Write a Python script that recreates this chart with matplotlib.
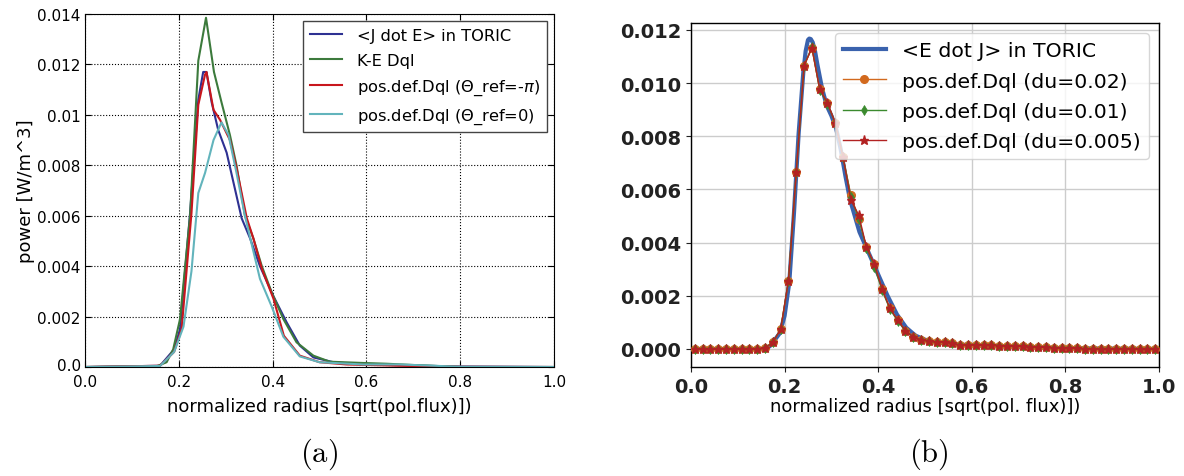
import numpy as np
import matplotlib
matplotlib.use('Agg')
from matplotlib import pyplot as plt
from matplotlib.transforms import ScaledTranslation

# ---- (a) data : radius / power [W/m^3]
r_toric_a = [0.0, 0.16, 0.19, 0.2026, 0.224, 0.2416, 0.252, 0.259, 0.270, 0.284, 0.302, 0.318,
             0.334, 0.352, 0.373, 0.402, 0.430, 0.458, 0.487, 0.53, 0.593, 0.70, 0.80, 1.0]
p_toric_a = [0.0, 0.00005, 0.0007, 0.0015, 0.0061, 0.0106, 0.0117, 0.0117, 0.0105, 0.0094, 0.0085, 0.0072,
             0.0059, 0.0051, 0.0040, 0.0028, 0.00177, 0.00085, 0.00038, 0.00019, 0.0001, 0.00006, 0.00002, 0.0]

r_ke = [0.0, 0.153, 0.174, 0.188, 0.2026, 0.224, 0.2416, 0.258, 0.275, 0.291, 0.309, 0.323, 0.341,
        0.359, 0.377, 0.398, 0.423, 0.451, 0.487, 0.522, 0.593, 0.643, 0.70, 0.80, 1.0]
p_ke = [0.0, 0.00003, 0.00019, 0.0007, 0.0019, 0.0060, 0.01215, 0.01385, 0.0117, 0.0105, 0.0092, 0.0080, 0.0060,
        0.0051, 0.0040, 0.00296, 0.0019, 0.00098, 0.00045, 0.00021, 0.00016, 0.00013, 0.00008, 0.0, 0.0]

r_pd_pi = [0.0, 0.16, 0.19, 0.206, 0.227, 0.2416, 0.256, 0.259, 0.274, 0.288, 0.309, 0.323, 0.345,
           0.359, 0.377, 0.402, 0.424, 0.458, 0.50, 0.558, 0.67, 0.80, 1.0]
p_pd_pi = [0.0, 0.00005, 0.0006, 0.0015, 0.0061, 0.0104, 0.0116, 0.0117, 0.0102, 0.0098, 0.0090, 0.0079, 0.0059,
           0.0051, 0.0039, 0.0027, 0.00124, 0.00045, 0.00019, 0.0001, 0.00005, 0.00001, 0.0]

r_pd_0 = [0.0, 0.16, 0.19, 0.21, 0.227, 0.2416, 0.256, 0.274, 0.291, 0.306, 0.323, 0.341, 0.355,
          0.373, 0.398, 0.423, 0.458, 0.50, 0.593, 0.67, 0.80, 1.0]
p_pd_0 = [0.0, 0.00004, 0.0006, 0.0016, 0.0038, 0.0069, 0.0077, 0.0090, 0.0097, 0.0092, 0.0077, 0.0060, 0.0049,
          0.0035, 0.0024, 0.0012, 0.00042, 0.00019, 0.0001, 0.0001, 0.00001, 0.0]

labels_a = ['<J dot E> in TORIC', 'K-E Dql', r'pos.def.Dql ($\Theta$_ref=-$\pi$)', r'pos.def.Dql ($\Theta$_ref=0)']
yticks_a = [0.0, 0.002, 0.004, 0.006, 0.008, 0.010, 0.012, 0.014]
ytlabels_a = ['0.0', '0.002', '0.004', '0.006', '0.008', '0.01', '0.012', '0.014']
xticks = [0.0, 0.2, 0.4, 0.6, 0.8, 1.0]

# ---- (b) data
r_toric_b = [0.0, 0.16, 0.17, 0.19, 0.20, 0.21, 0.22, 0.23, 0.24, 0.245, 0.25, 0.2528, 0.256, 0.26, 0.265,
             0.27, 0.28, 0.29, 0.30, 0.31, 0.32, 0.33, 0.34, 0.35, 0.36, 0.38, 0.40, 0.42, 0.44, 0.46,
             0.48, 0.50, 0.52, 0.56, 0.60, 0.70, 0.80, 1.0]
p_toric_b = [0.0, 0.0, 0.00013, 0.0006, 0.00125, 0.0025, 0.0051, 0.0081, 0.0104, 0.0112, 0.01162, 0.01167, 0.01165,
             0.01153, 0.0112, 0.0107, 0.0098, 0.00915, 0.00877, 0.0083, 0.0075, 0.0065, 0.0056, 0.0050, 0.0044,
             0.0036, 0.0028, 0.0020, 0.0013, 0.0008, 0.0005, 0.00035, 0.00025, 0.00018, 0.00014, 0.00008,
             0.00003, 0.0]

# radial grid of the quasilinear runs (60 cells)
r_mk = np.linspace(1 / 120, 119 / 120, 60)
p_du02 = [0, 0, 0, 0, 0, 0, 0, 0, 0, 0.00004,
          0.00025, 0.00075, 0.00257, 0.00667, 0.01065, 0.01132, 0.00977, 0.00925, 0.0085, 0.0072,
          0.00578, 0.0049, 0.00382, 0.0032, 0.00226, 0.00153, 0.00109, 0.00069, 0.00046, 0.00034,
          0.00031, 0.00025, 0.00028, 0.00021, 0.00015, 0.00016, 0.00015, 0.00014, 0.00015, 0.00013,
          0.00012, 0.00011, 0.0001, 0.00009, 0.00008, 0.00006, 0.00005, 0.00004, 0.00003, 0.00002,
          0.00001, 0.00001, 0.00001, 0.00001, 0.0, 0.0, 0.0, 0.0, 0.0, 0.0]
p_du01 = [0, 0, 0, 0, 0, 0, 0, 0, 0, 0.00004,
          0.00025, 0.00075, 0.00257, 0.00667, 0.01065, 0.01135, 0.00975, 0.00922, 0.0085, 0.0072,
          0.0057, 0.0049, 0.00380, 0.0031, 0.00220, 0.00150, 0.00105, 0.00067, 0.00045, 0.00034,
          0.00030, 0.00025, 0.00027, 0.00021, 0.00015, 0.00016, 0.00015, 0.00014, 0.00015, 0.00013,
          0.00012, 0.00011, 0.0001, 0.00009, 0.00008, 0.00006, 0.00005, 0.00004, 0.00003, 0.00002,
          0.00001, 0.00001, 0.00001, 0.00001, 0.0, 0.0, 0.0, 0.0, 0.0, 0.0]
p_du005 = [0, 0, 0, 0, 0, 0, 0, 0, 0, 0.00004,
           0.00025, 0.00075, 0.00257, 0.00667, 0.01065, 0.01132, 0.00977, 0.00925, 0.0085, 0.0072,
           0.0056, 0.00504, 0.00382, 0.0032, 0.00226, 0.00153, 0.00109, 0.00069, 0.00046, 0.00034,
           0.00031, 0.00025, 0.00028, 0.00021, 0.00015, 0.00016, 0.00015, 0.00014, 0.00015, 0.00013,
           0.00012, 0.00011, 0.0001, 0.00009, 0.00008, 0.00006, 0.00005, 0.00004, 0.00003, 0.00002,
           0.00001, 0.00001, 0.00001, 0.00001, 0.0, 0.0, 0.0, 0.0, 0.0, 0.0]
labels_b = ['<E dot J> in TORIC', 'pos.def.Dql (du=0.02)', 'pos.def.Dql (du=0.01)', 'pos.def.Dql (du=0.005)']
yticks_b = [0.0, 0.002, 0.004, 0.006, 0.008, 0.010, 0.012]

fig = plt.figure(figsize=(11.84, 4.77), dpi=100)

# (a) old-matplotlib look
ax1 = fig.add_axes([0.0718, 0.2285, 0.3961, 0.7401])
ax1.plot(r_toric_a, p_toric_a, color='#2e3192', lw=1.5, label=labels_a[0])
ax1.plot(r_ke, p_ke, color='#3c7a3c', lw=1.5, label=labels_a[1])
ax1.plot(r_pd_pi, p_pd_pi, color='#c8161d', lw=1.5, label=labels_a[2])
ax1.plot(r_pd_0, p_pd_0, color='#62b4bc', lw=1.5, label=labels_a[3])
ax1.set_xlim(0, 1)
ax1.set_ylim(0, 0.014)
ax1.set_xticks(xticks)
ax1.set_xticklabels(['0.0', '0.2', '0.4', '0.6', '0.8', '1.0'])
ax1.set_yticks(yticks_a)
ax1.set_yticklabels(ytlabels_a)
ax1.tick_params(direction='in', top=True, right=True, labelsize=11, length=4)
ax1.tick_params(axis='x', pad=5)
ax1.tick_params(axis='y', pad=3)
# lift the bottom y label a bit, like the old layout
lbl0 = ax1.get_yticklabels()[0]
lbl0.set_transform(lbl0.get_transform() + ScaledTranslation(0, 2.5 / 72, fig.dpi_scale_trans))
ax1.grid(True, linestyle=':', color='k', lw=0.8)
ax1.set_xlabel('normalized radius [sqrt(pol.flux)])', fontsize=13, labelpad=6)
ax1.set_ylabel('power [W/m^3]', fontsize=13, labelpad=2)
leg1 = ax1.legend(loc='upper right', fontsize=11.7, fancybox=False, framealpha=1,
                  edgecolor='#444444', handlelength=2.0, handletextpad=0.9, borderaxespad=0.45,
                  labelspacing=0.6)
leg1.get_frame().set_linewidth(1.0)

# (b) newer style
ax2 = fig.add_axes([0.5836, 0.2285, 0.3953, 0.7212])
ax2.plot(r_toric_b, p_toric_b, color='#3a62ad', lw=3, label=labels_b[0], zorder=2)
ax2.plot(r_mk, p_du02, color='#d2691e', lw=1, marker='o', ms=5.5, label=labels_b[1], zorder=3)
ax2.plot(r_mk, p_du01, color='#3b8a2e', lw=1, marker='d', ms=5.5, mew=0.5, label=labels_b[2], zorder=4)
ax2.plot(r_mk, p_du005, color='#b22222', lw=1, marker='*', ms=6.5, label=labels_b[3], zorder=5)
ax2.set_xlim(0, 1)
ax2.set_ylim(-0.000677, 0.012256)
ax2.set_xticks(xticks)
ax2.set_yticks(yticks_b)
ax2.set_yticklabels(['%.3f' % v for v in yticks_b])
ax2.set_xticklabels(['%.1f' % v for v in xticks])
for t in ax2.get_xticklabels() + ax2.get_yticklabels():
    t.set_fontweight('bold')
ax2.tick_params(labelsize=14, length=3.5, width=0.8, colors='#222222')
ax2.grid(True, color='#cccccc', lw=1)
ax2.set_axisbelow(True)
for s in ax2.spines.values():
    s.set_color('black')
    s.set_linewidth(1)
ax2.set_xlabel('normalized radius [sqrt(pol. flux)])', fontsize=13, labelpad=1)
ax2.legend(loc='upper right', fontsize=14.7, framealpha=0.8, numpoints=1,
           handlelength=2.1, handletextpad=0.8, borderaxespad=0.5, labelspacing=0.55)

fig.text(0.2695, 0.032, r'$(\mathrm{a})$', fontsize=22, ha='center', math_fontfamily='cm')
fig.text(0.7846, 0.032, r'$(\mathrm{b})$', fontsize=22, ha='center', math_fontfamily='cm')

plt.savefig('out.png', dpi=100)
